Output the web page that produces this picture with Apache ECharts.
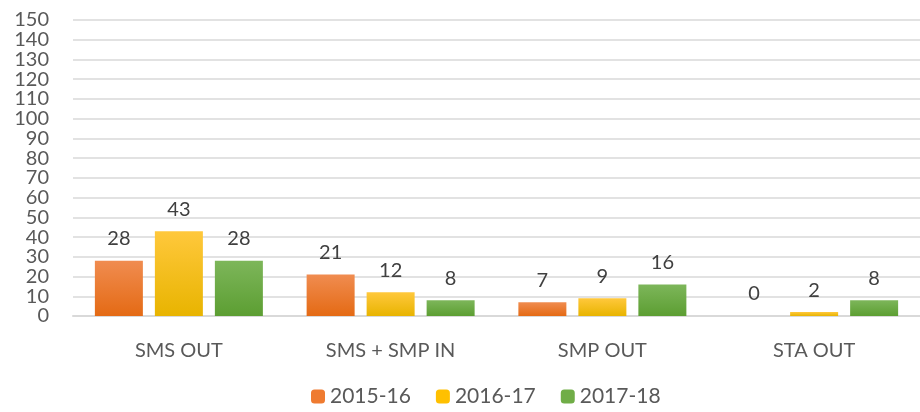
<!DOCTYPE html>
<html>
<head>
<meta charset="utf-8">
<script src="https://cdn.jsdelivr.net/npm/echarts@6/dist/echarts.min.js"></script>
<style>
  html, body { margin: 0; padding: 0; background: #fff; }
  #chart { width: 920px; height: 412px; }
</style>
</head>
<body>
<div id="chart"></div>
<script>
    // Data
    const categories = ['SMS OUT', 'SMS + SMP IN', 'SMP OUT', 'STA OUT'];
    const seriesNames = ['2015-16', '2016-17', '2017-18'];
    const values2015 = [28, 21, 7, 0];
    const values2016 = [43, 12, 9, 2];
    const values2017 = [28, 8, 16, 8];

    const FONT = 'Lato';
    const TEXT = '#595959';

    function gradient(top, bottom) {
        return new echarts.graphic.LinearGradient(0, 0, 0, 1, [
            { offset: 0, color: top },
            { offset: 1, color: bottom }
        ]);
    }

    const colors = [
        gradient('#f08c50', '#e46a14'),
        gradient('#ffc83c', '#e8b400'),
        gradient('#7db65a', '#5c9e32')
    ];

    function makeSeries(name, data, color) {
        return {
            name: name,
            type: 'bar',
            data: data,
            barWidth: 48,
            barGap: '25%',
            itemStyle: { color: color },
            label: {
                show: true,
                position: 'top',
                distance: 12,
                color: '#404040',
                fontFamily: FONT,
                fontSize: 20
            }
        };
    }

    const yLabelStyle = { color: TEXT, fontSize: 20, fontFamily: FONT, margin: 24 };

    const chart = echarts.init(document.getElementById('chart'));
    chart.setOption({
        animation: false,
        textStyle: { fontFamily: FONT },
        legend: {
            data: seriesNames.map((n, i) => ({ name: n, itemStyle: { color: ['#ef7b30', '#ffc000', '#70ad47'][i] } })),
            bottom: 0,
            left: 306,
            itemWidth: 14,
            itemHeight: 14,
            itemGap: 25,
            textStyle: { color: TEXT, fontSize: 21, fontFamily: FONT }
        },
        grid: { left: 73, right: 0, top: 20, bottom: 96, containLabel: false },
        xAxis: {
            type: 'category',
            data: categories,
            axisTick: { show: false },
            axisLine: { lineStyle: { color: '#d9d9d9', width: 2 } },
            axisLabel: { color: TEXT, fontSize: 20, fontFamily: FONT, margin: 25 }
        },
        yAxis: [
            {
                type: 'value',
                min: 0,
                max: 150,
                interval: 10,
                axisLine: { show: false },
                axisTick: { show: false },
                splitLine: { lineStyle: { color: '#d9d9d9', width: 1.5 } },
                axisLabel: Object.assign({ showMinLabel: false, showMaxLabel: false }, yLabelStyle)
            },
            {
                // only carries the 0 and 150 labels, which the first axis drops as overlapping
                type: 'value',
                position: 'left',
                min: 0,
                max: 150,
                interval: 150,
                axisLine: { show: false },
                axisTick: { show: false },
                splitLine: { show: false },
                axisLabel: yLabelStyle
            }
        ],
        series: [
            makeSeries(seriesNames[0], values2015, colors[0]),
            makeSeries(seriesNames[1], values2016, colors[1]),
            makeSeries(seriesNames[2], values2017, colors[2])
        ]
    });
</script>
</body>
</html>
